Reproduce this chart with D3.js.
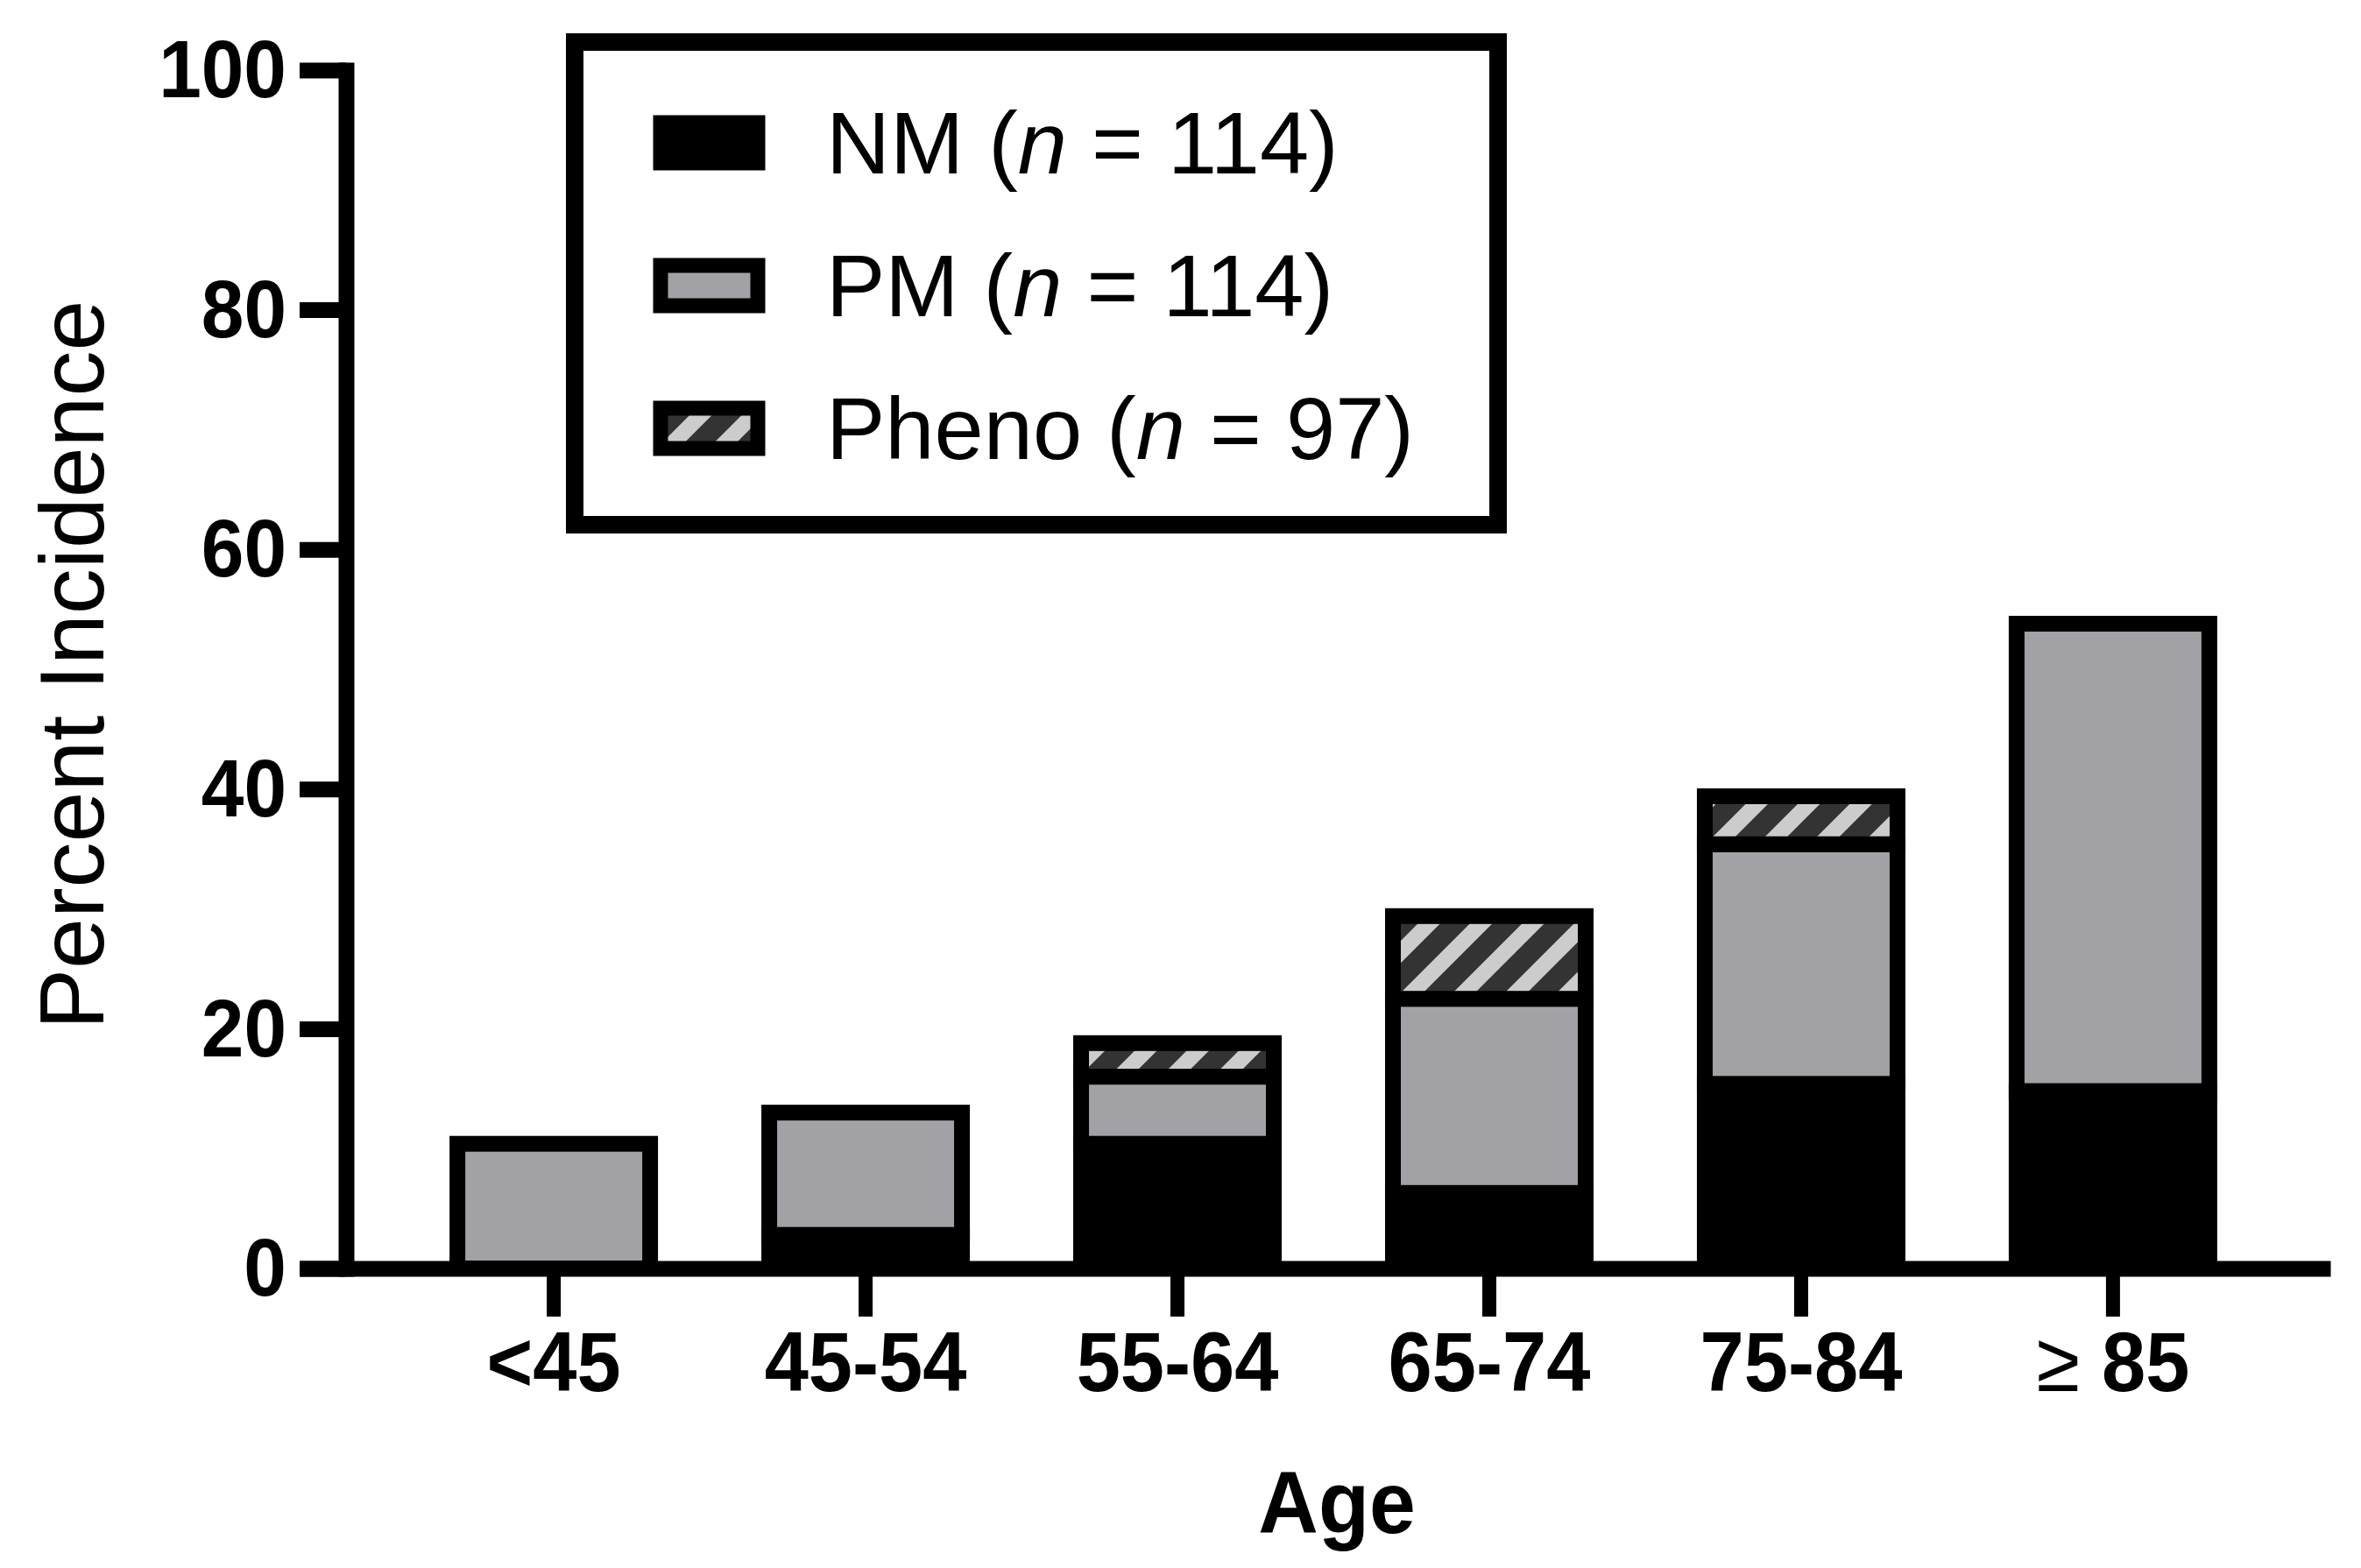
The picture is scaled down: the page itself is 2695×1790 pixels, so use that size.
<!DOCTYPE html>
<html>
<head>
<meta charset="utf-8">
<script src="https://cdn.jsdelivr.net/npm/d3@7"></script>
<style>
  html, body { margin: 0; padding: 0; background: #fff; }
  svg { display: block; }
</style>
</head>
<body>
<svg id="chart"></svg>
<script>
// data
const ageGroups = ['<45', '45-54', '55-64', '65-74', '75-84', '≥ 85'];
const nmValues = [0, 2.8, 10.4, 6.3, 15.4, 14.8];
const pmValues = [10.4, 10.2, 5.6, 16.2, 20.0, 39.0];
const phenoValues = [0, 0, 2.8, 6.9, 4.0, 0];
const seriesKeys = ['NM', 'PM', 'Pheno'];
const seriesN = [114, 114, 97];
const yTicks = [0, 20, 40, 60, 80, 100];

const svgWidth = 2695;
const svgHeight = 1790;
const font = '"Liberation Sans", Arial, Helvetica, sans-serif';
const gray = '#a2a1a6';
const lineW = 18;

const svg = d3.select('#chart')
  .attr('width', svgWidth)
  .attr('height', svgHeight)
  .style('background', '#fff');

// hatch pattern for Pheno
const defs = svg.append('defs');
const hatch = defs.append('pattern')
  .attr('id', 'hatch')
  .attr('patternUnits', 'userSpaceOnUse')
  .attr('width', 42)
  .attr('height', 10)
  .attr('patternTransform', 'rotate(45)');
hatch.append('rect').attr('width', 42).attr('height', 10).attr('fill', '#333333');
hatch.append('rect').attr('width', 18).attr('height', 10).attr('fill', '#cccccc');

const fills = { NM: '#000000', PM: gray, Pheno: 'url(#hatch)' };

// table for the stack
const table = ageGroups.map((g, i) => ({
  group: g, NM: nmValues[i], PM: pmValues[i], Pheno: phenoValues[i]
}));
const stacked = d3.stack().keys(seriesKeys)(table);

// scales
const x = d3.scaleBand()
  .domain(ageGroups)
  .range([342, 2660])
  .paddingInner(0.382)
  .paddingOuter(0.447)
  .align(0.566);

const y = d3.scaleLinear()
  .domain([0, 100])
  .range([1448, 80]);

// bars
const layers = svg.append('g').selectAll('g')
  .data(stacked)
  .join('g')
  .attr('fill', d => fills[d.key]);

layers.selectAll('rect')
  .data(d => d.filter(s => s[1] - s[0] > 0))
  .join('rect')
  .attr('x', d => x(d.data.group))
  .attr('width', x.bandwidth())
  .attr('y', d => y(d[1]))
  .attr('height', d => y(d[0]) - y(d[1]))
  .attr('stroke', '#000')
  .attr('stroke-width', lineW);

// y axis
const yAxis = svg.append('g')
  .attr('transform', 'translate(395,0)')
  .call(d3.axisLeft(y).tickValues(yTicks).tickSize(53).tickSizeOuter(0));

yAxis.select('.domain')
  .attr('stroke-width', lineW)
  .attr('stroke-linecap', 'square');
yAxis.selectAll('.tick line').attr('stroke-width', lineW);
yAxis.selectAll('.tick text')
  .attr('x', null)
  .attr('dy', '0.33em')
  .attr('transform', 'translate(-68,0) scale(0.94,1)')
  .attr('text-anchor', 'end')
  .attr('font-family', font)
  .attr('font-weight', 'bold')
  .attr('font-size', 93)
  .attr('fill', '#000');

// x axis
const xAxis = svg.append('g')
  .attr('transform', 'translate(0,1448)')
  .call(d3.axisBottom(x).tickSize(55).tickSizeOuter(0));

xAxis.select('.domain').attr('stroke-width', lineW);
xAxis.selectAll('.tick line').attr('stroke-width', 16);
xAxis.selectAll('.tick text')
  .attr('y', null)
  .attr('dy', null)
  .attr('transform', 'translate(0,140) scale(0.94,1)')
  .attr('font-family', font)
  .attr('font-weight', 'bold')
  .attr('font-size', 96)
  .attr('fill', '#000')
  .each(function (d) {
    if (d.startsWith('≥')) {
      const t = d3.select(this).text(null);
      t.append('tspan').attr('font-weight', 'normal').text('≥');
      t.append('tspan').text(d.slice(1));
    }
  });

// axis titles
svg.append('text')
  .attr('transform', 'translate(1526,1750) scale(0.95,1)')
  .attr('text-anchor', 'middle')
  .attr('font-family', font)
  .attr('font-weight', 'bold')
  .attr('font-size', 100)
  .text('Age');

svg.append('text')
  .attr('transform', 'translate(118,759) rotate(-90)')
  .attr('text-anchor', 'middle')
  .attr('font-family', font)
  .attr('font-size', 104)
  .text('Percent Incidence');

// legend
const legend = svg.append('g');
legend.append('rect')
  .attr('x', 656).attr('y', 48)
  .attr('width', 1054).attr('height', 551)
  .attr('fill', '#fff')
  .attr('stroke', '#000')
  .attr('stroke-width', 20);

const rowStep = 163;

const rows = legend.selectAll('g.row')
  .data(seriesKeys)
  .join('g')
  .attr('class', 'row')
  .attr('transform', (d, i) => `translate(0,${163 + i * rowStep})`);

rows.append('rect')
  .attr('x', 754).attr('y', -23)
  .attr('width', 111).attr('height', 46)
  .attr('fill', d => fills[d])
  .attr('stroke', '#000')
  .attr('stroke-width', 17);

rows.append('text')
  .attr('transform', 'translate(943,35)')
  .attr('font-family', font)
  .attr('font-size', 101)
  .attr('fill', '#000')
  .each(function (d, i) {
    const t = d3.select(this);
    t.append('tspan').text(`${d} (`);
    t.append('tspan').attr('font-style', 'italic').text('n');
    t.append('tspan').text(` = ${seriesN[i]})`);
  });
</script>
</body>
</html>
